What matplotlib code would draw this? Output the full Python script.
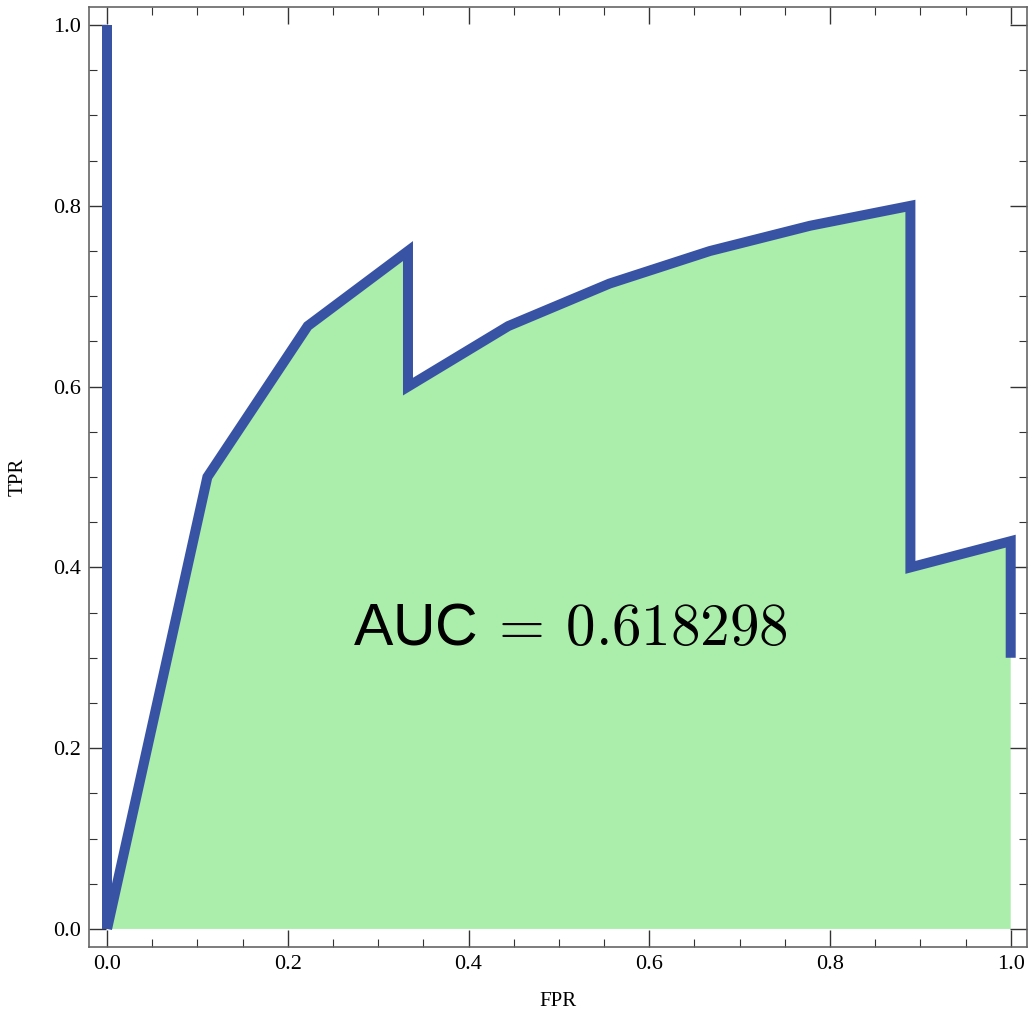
import numpy as np
import matplotlib.pyplot as plt
from matplotlib.ticker import MultipleLocator

# ROC curve points
fpr = [0.0, 0.0, 0.111, 0.222, 0.333, 0.333, 0.444, 0.556, 0.667, 0.778, 0.889, 0.889, 1.0, 1.0]
tpr = [1.0, 0.0, 0.5, 0.667, 0.75, 0.6, 0.667, 0.714, 0.75, 0.778, 0.8, 0.4, 0.429, 0.3]
auc_value = 0.618298

plt.rcParams['font.family'] = ['Liberation Serif', 'DejaVu Serif']
plt.rcParams['mathtext.fontset'] = 'custom'
plt.rcParams['mathtext.rm'] = 'cmr10'
plt.rcParams['mathtext.sf'] = 'Liberation Sans'

fig = plt.figure(figsize=(10.28, 10.22), dpi=100)
ax = fig.add_axes([89 / 1028, 1 - 947 / 1022, (1028 - 89) / 1028 - 0.001, (947 - 7) / 1022])

# area under the curve (without the first vertical segment)
fx = fpr[1:] + [fpr[-1]]
fy = tpr[1:] + [0.0]
ax.fill(fx, fy, color='#abedab', lw=0, zorder=1)
# first vertical segment drawn apart so the sharp corner at (0,0) stays flat
ax.plot(fpr[:2], tpr[:2], color='#3853a4', lw=7.2, solid_capstyle='butt', zorder=2)
ax.plot(fpr[1:], tpr[1:], color='#3853a4', lw=7.2, solid_joinstyle='miter', solid_capstyle='butt', zorder=2)

ax.text(0.513, 0.33, r'$\mathsf{AUC}\,=\,' + f'{auc_value}' + '$', fontsize=42.5,
        ha='center', va='center', zorder=3)

ax.set_xlim(-0.02, 1.018)
ax.set_ylim(-0.02, 1.02)
ax.xaxis.set_major_locator(MultipleLocator(0.2))
ax.xaxis.set_minor_locator(MultipleLocator(0.05))
ax.yaxis.set_major_locator(MultipleLocator(0.2))
ax.yaxis.set_minor_locator(MultipleLocator(0.05))
ax.xaxis.set_major_formatter(plt.FuncFormatter(lambda v, p: f'{v:.1f}'))
ax.yaxis.set_major_formatter(plt.FuncFormatter(lambda v, p: f'{v:.1f}'))
ax.tick_params(which='both', direction='in', top=True, right=True, labelsize=16, color='#333333', pad=6)
ax.tick_params(which='major', length=12, width=1)
ax.tick_params(which='minor', length=6, width=0.8)
for s in ax.spines.values():
    s.set_color('#666666')
    s.set_linewidth(1.2)

ax.set_xlabel('FPR', fontsize=15, labelpad=13)
ax.set_ylabel('TPR', fontsize=15, labelpad=18)

fig.savefig('out.png', dpi=100)
